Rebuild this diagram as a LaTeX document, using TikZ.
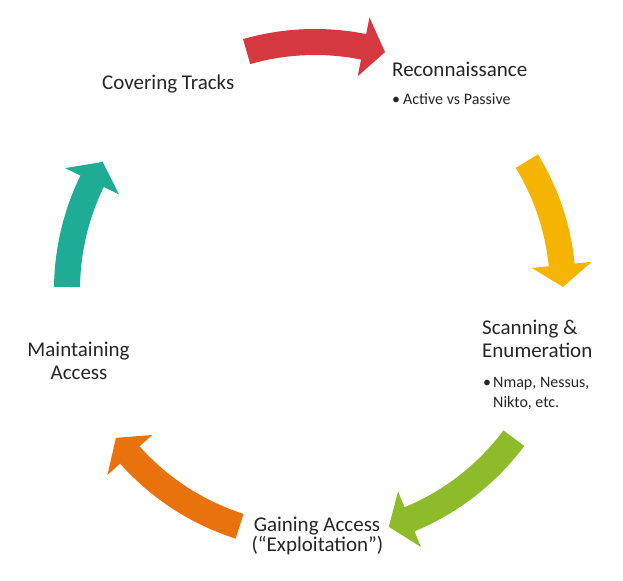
\documentclass[tikz,border=0pt]{standalone}
\usepackage{fontspec}
\setmainfont{Carlito}
\definecolor{arrowred}{RGB}{214,56,64}
\definecolor{arrowyellow}{RGB}{244,180,0}
\definecolor{arrowgreen}{RGB}{141,187,42}
\definecolor{arroworange}{RGB}{233,114,12}
\definecolor{arrowteal}{RGB}{31,172,151}
\definecolor{textgray}{RGB}{38,38,38}
% curved block arrow on the ring: colour, tail angle, tip angle
\newcommand\ringarrow[3]{%
  \fill[#1] (#2:261) arc[start angle=#2, end angle=#3+5.1, radius=261]
    -- (#3+5.1:278) -- (#3:248) -- (#3+5.1:218) -- (#3+5.1:235)
    arc[start angle=#3+5.1, end angle=#2, radius=235] -- cycle;}
\begin{document}
\begin{tikzpicture}[x=1bp,y=1bp,
  title/.style={inner sep=0pt, text=textgray, font=\fontsize{21bp}{25bp}\selectfont},
  sub/.style={inner sep=0pt, text=textgray, font=\fontsize{16bp}{19bp}\selectfont}]
\useasboundingbox (0,0) rectangle (623,581);
\fill[white] (0,0) rectangle (623,581);

\begin{scope}[shift={(315,291)}]
  \ringarrow{arrowred}{106}{73.6}
  \ringarrow{arrowyellow}{31.3}{0.7}
  \ringarrow{arrowgreen}{-36.7}{-72.7}
  \ringarrow{arroworange}{-107.7}{-143.4}
  \ringarrow{arrowteal}{179.3}{148.9}
\end{scope}

% stage labels
\node[title, anchor=base west] (cover) at (102,491) {Covering Tracks};
\node[title, anchor=base west] (recon) at (392,504) {Reconnaissance};
\node[sub, anchor=base west] (reconb) at (392,476) {\makebox[11bp][l]{•}Active vs Passive};
\node[title, anchor=base west] (scan1) at (482,246) {Scanning \&};
\node[title, anchor=base west] (scan2) at (482,223) {Enumeration};
\node[sub, anchor=base west] (scanb1) at (483,193) {\makebox[10bp][l]{•}Nmap, Nessus,};
\node[sub, anchor=base west] (scanb2) at (493,173) {Nikto, etc.};
\node[title, anchor=base] (gain1) at (317,49) {Gaining Access};
\node[title, anchor=base] (gain2) at (317.5,29) {(“Exploitation”)};
\node[title, anchor=base] (maint1) at (78.5,224) {Maintaining};
\node[title, anchor=base] (maint2) at (79,201) {Access};
\end{tikzpicture}
\end{document}
